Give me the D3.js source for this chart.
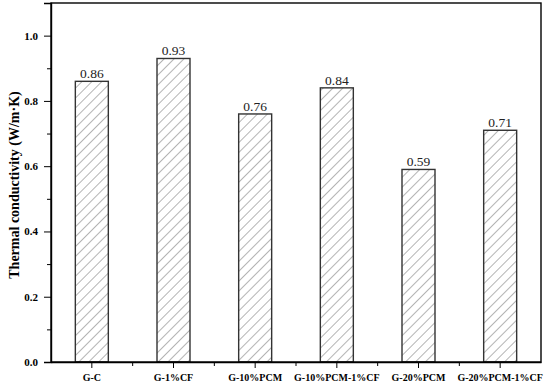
<!DOCTYPE html>
<html>
<head>
<meta charset="utf-8">
<script src="https://cdnjs.cloudflare.com/ajax/libs/d3/7.8.5/d3.min.js"></script>
<style>
  body { margin: 0; background: #fff; }
  svg text { font-family: "Liberation Serif", "Times New Roman", serif; }
</style>
</head>
<body>
<div id="chart"></div>
<script>
// data
var categories = ["G-C", "G-1%CF", "G-10%PCM", "G-10%PCM-1%CF", "G-20%PCM", "G-20%PCM-1%CF"];
var values = [0.86, 0.93, 0.76, 0.84, 0.59, 0.71];
var yTicks = [0.0, 0.2, 0.4, 0.6, 0.8, 1.0];

var W = 550, H = 386;
var margin = { top: 3, right: 9, bottom: 24, left: 51 };
var width = W - margin.left - margin.right,
    height = H - margin.top - margin.bottom;

var svg = d3.select("#chart").append("svg")
  .attr("width", W)
  .attr("height", H);

// hatch pattern
var defs = svg.append("defs");
var pat = defs.append("pattern")
  .attr("id", "hatch")
  .attr("patternUnits", "userSpaceOnUse")
  .attr("width", 7)
  .attr("height", 7)
  .attr("patternTransform", "rotate(45)");
pat.append("rect").attr("width", 7).attr("height", 7).attr("fill", "#fff");
pat.append("line")
  .attr("x1", 0).attr("y1", 0).attr("x2", 0).attr("y2", 7)
  .attr("stroke", "#6a6a6a")
  .attr("stroke-width", 1);

var g = svg.append("g")
  .attr("transform", "translate(" + margin.left + "," + margin.top + ")");

var x = d3.scaleBand().domain(categories).range([0, width]).paddingInner(0.596).paddingOuter(0.298);
var xc = d3.scaleBand().domain(categories).range([0, width]);
var y = d3.scaleLinear().domain([0, 1.1]).range([height, 0]);

// bars
g.selectAll(".bar").data(values).enter().append("rect")
  .attr("class", "bar")
  .attr("x", function (d, i) { return x(categories[i]); })
  .attr("y", function (d) { return y(d); })
  .attr("width", x.bandwidth())
  .attr("height", function (d) { return height - y(d); })
  .attr("fill", "url(#hatch)")
  .attr("stroke", "#333")
  .attr("stroke-width", 1.4);

// value labels
g.selectAll(".val").data(values).enter().append("text")
  .attr("class", "val")
  .attr("x", function (d, i) { return xc(categories[i]) + xc.bandwidth() / 2; })
  .attr("y", function (d) { return y(d) - 3; })
  .attr("text-anchor", "middle")
  .style("font-size", "13.5px")
  .attr("fill", "#222")
  .text(function (d) { return d.toFixed(2); });

// y axis
var yAxis = d3.axisLeft(y).tickValues(yTicks).tickSize(7).tickFormat(d3.format(".1f"));
var ya = g.append("g").call(yAxis);
ya.selectAll("text").style("font-size", "11px").style("font-weight", "bold").attr("x", -13);
// minor y ticks
var yMinor = d3.axisLeft(y).tickValues([0.1, 0.3, 0.5, 0.7, 0.9]).tickSize(4).tickFormat("");
g.append("g").call(yMinor).select(".domain").remove();

// x axis
var xAxis = d3.axisBottom(xc).tickSize(6).tickSizeOuter(0);
var xa = g.append("g").attr("transform", "translate(0," + height + ")").call(xAxis);
xa.selectAll("text").style("font-size", "10px").style("font-weight", "bold").attr("y", 12);
// minor x ticks between categories
var xMinorPos = categories.slice(1).map(function (c) { return xc(c); });
g.append("g").selectAll("line").data(xMinorPos).enter().append("line")
  .attr("x1", function (d) { return d; }).attr("x2", function (d) { return d; })
  .attr("y1", height).attr("y2", height + 4)
  .attr("stroke", "#000");

// frame
g.append("rect")
  .attr("width", width).attr("height", height)
  .attr("fill", "none").attr("stroke", "#000").attr("stroke-width", 1.4);
svg.selectAll(".domain").attr("stroke-width", 1.4);

// y label
svg.append("text")
  .attr("transform", "translate(19,185) rotate(-90)")
  .attr("text-anchor", "middle")
  .style("font-size", "14px")
  .style("font-weight", "bold")
  .text("Thermal conductivity (W/m·K)");
</script>
</body>
</html>
